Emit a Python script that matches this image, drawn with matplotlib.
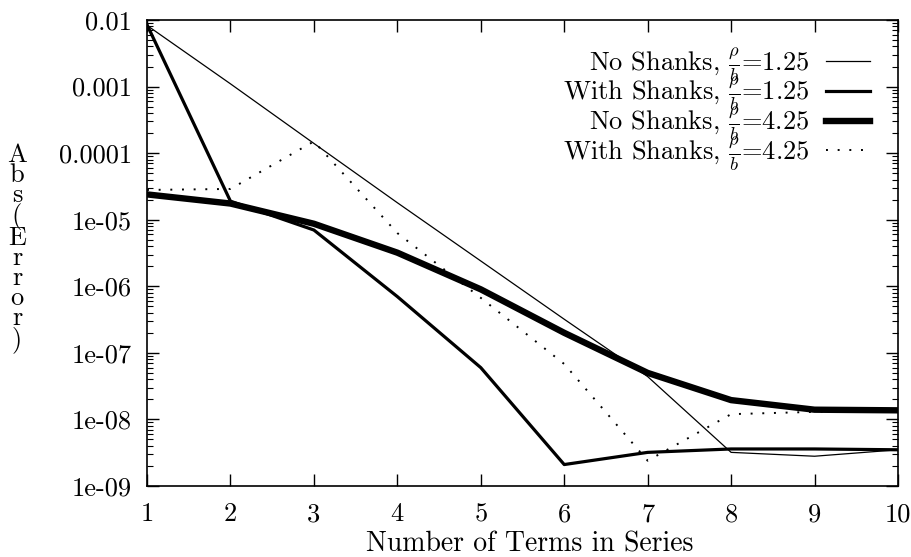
import matplotlib
matplotlib.use("Agg")
import matplotlib.pyplot as plt
from matplotlib.ticker import LogLocator, NullFormatter, FixedLocator, FixedFormatter

plt.rcParams['font.family'] = ['cmr10', 'DejaVu Serif']
plt.rcParams['mathtext.fontset'] = 'cm'
plt.rcParams['axes.formatter.use_mathtext'] = True

terms = [1, 2, 3, 4, 5, 6, 7, 8, 9, 10]
no_shanks_125 = [8.3e-3, 1.1e-3, 1.4e-4, 1.8e-5, 2.4e-6, 3.2e-7, 4.4e-8, 3.2e-9, 2.8e-9, 3.5e-9]
with_shanks_125 = [8.5e-3, 1.9e-5, 7.0e-6, 7.0e-7, 6.0e-8, 2.1e-9, 3.2e-9, 3.6e-9, 3.6e-9, 3.5e-9]
no_shanks_425 = [2.4e-5, 1.75e-5, 8.7e-6, 3.2e-6, 9.0e-7, 2.0e-7, 5.0e-8, 1.95e-8, 1.4e-8, 1.37e-8]
with_shanks_425 = [2.8e-5, 2.9e-5, 1.5e-4, 6.3e-6, 6.7e-7, 6.8e-8, 2.4e-9, 1.2e-8, 1.3e-8, 1.3e-8]

labels = [r'No Shanks, $\frac{\rho}{b}$=1.25',
          r'With Shanks, $\frac{\rho}{b}$=1.25',
          r'No Shanks, $\frac{\rho}{b}$=4.25',
          r'With Shanks, $\frac{\rho}{b}$=4.25']

ytick_vals = [1e-9, 1e-8, 1e-7, 1e-6, 1e-5, 1e-4, 1e-3, 1e-2]
ytick_labels = ['1e-09', '1e-08', '1e-07', '1e-06', '1e-05', '0.0001', '0.001', '0.01']

W, H = 911, 557
L, R, T, B = 147, 898, 20, 486
fig = plt.figure(figsize=(W/100, H/100), dpi=100)
ax = fig.add_axes([L/W, 1-B/H, (R-L)/W, (B-T)/H])

ax.plot(terms, no_shanks_125, color='black', lw=0.9, label=labels[0])
ax.plot(terms, with_shanks_125, color='black', lw=2.3, label=labels[1])
ax.plot(terms, no_shanks_425, color='black', lw=4.6, label=labels[2])
ax.plot(terms, with_shanks_425, color='black', lw=1.4, linestyle=(0, (1, 5)), label=labels[3])

ax.set_yscale('log')
ax.set_xlim(1, 10)
ax.set_ylim(1e-9, 1e-2)
ax.set_xticks(terms)
ax.set_xticklabels([str(t) for t in terms])
ax.yaxis.set_major_locator(FixedLocator(ytick_vals))
ax.yaxis.set_major_formatter(FixedFormatter(ytick_labels))
ax.yaxis.set_minor_locator(LogLocator(base=10, subs=range(2, 10), numticks=20))
ax.yaxis.set_minor_formatter(NullFormatter())

ax.tick_params(which='both', direction='in', top=True, right=True, labelsize=19, colors='black')
ax.tick_params(which='major', length=8.5, width=1)
ax.tick_params(which='minor', length=4.3, width=0.8)
ax.tick_params(axis='x', pad=12)
ax.tick_params(axis='y', pad=11)
for s in ax.spines.values():
    s.set_linewidth(1.2)

fig.text(530/W, 1-544/H, 'Number of Terms in Series', fontsize=20, ha='center', va='center')
fig.text(17/W, 1-248/H, '\n'.join('Abs(Error)'), fontsize=19, ha='center', va='center',
         linespacing=0.8)

leg = ax.legend(loc='upper right', frameon=False, markerfirst=False, fontsize=19,
                handlelength=1.65, labelspacing=-0.35, handletextpad=0.65,
                borderaxespad=0, borderpad=0,
                bbox_to_anchor=((870-L)/(R-L), 1-(45-T)/(B-T)))

fig.savefig('out.png', dpi=100)
